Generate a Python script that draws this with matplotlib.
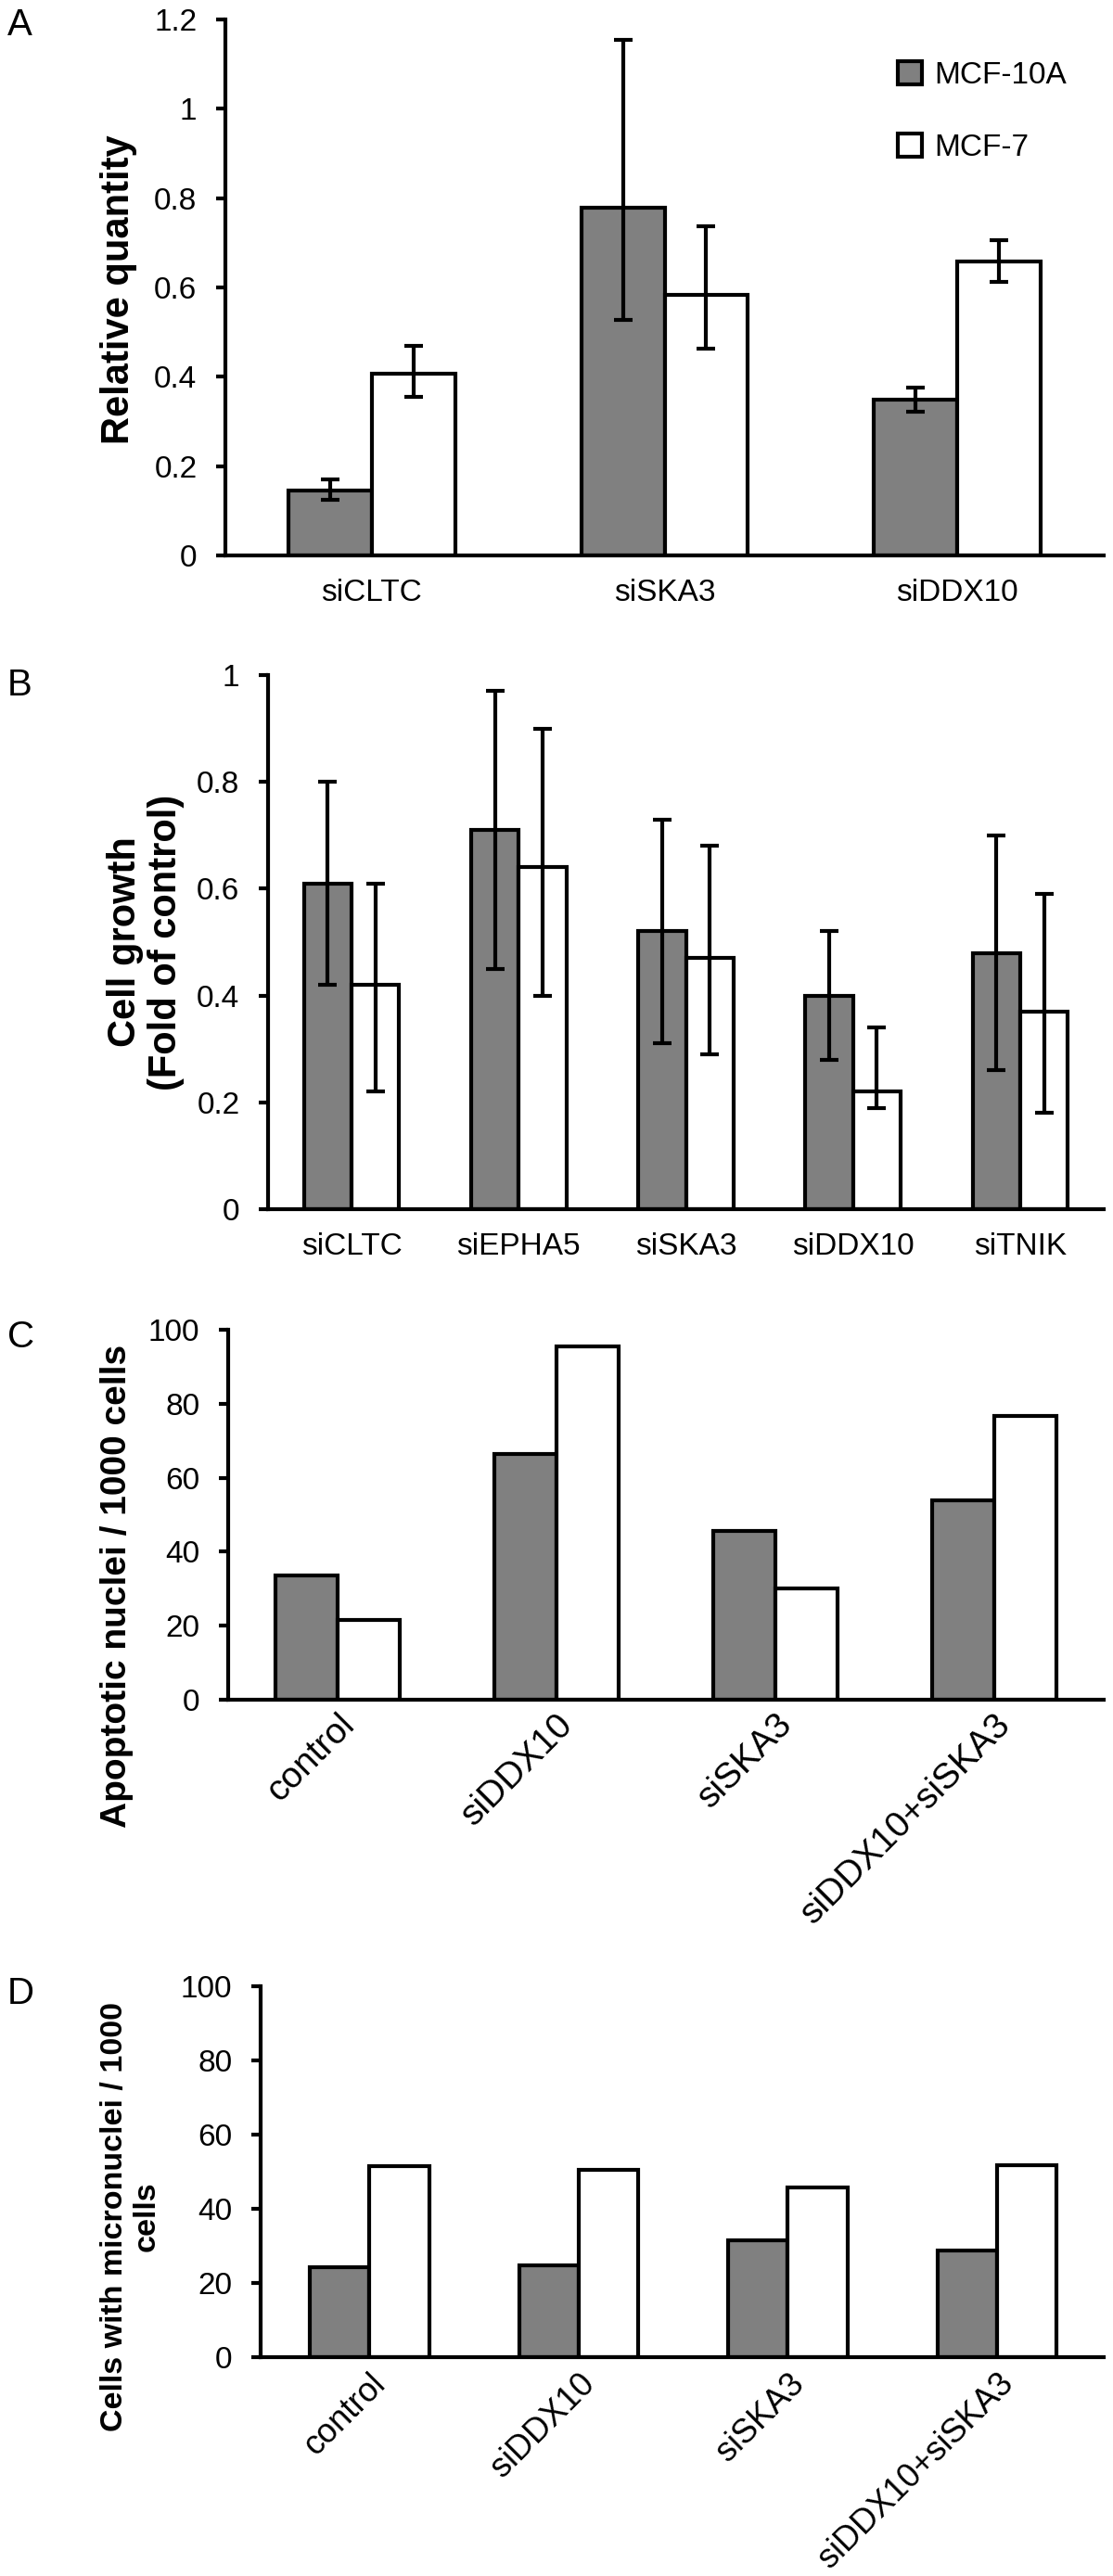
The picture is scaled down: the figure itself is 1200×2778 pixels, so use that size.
import matplotlib
matplotlib.use("Agg")
import matplotlib.pyplot as plt
import numpy as np
from matplotlib.patches import Patch

plt.rcParams['font.family'] = ['Liberation Sans', 'DejaVu Sans']

# ---------------- data ----------------
series_names = ["MCF-10A", "MCF-7"]

a_cats = ["siCLTC", "siSKA3", "siDDX10"]
a_10a = [0.145, 0.778, 0.348]
a_10a_lo = [0.125, 0.527, 0.322]
a_10a_hi = [0.170, 1.154, 0.375]
a_7 = [0.407, 0.584, 0.658]
a_7_lo = [0.354, 0.462, 0.612]
a_7_hi = [0.470, 0.738, 0.705]
a_ticks = [0, 0.2, 0.4, 0.6, 0.8, 1.0, 1.2]
a_ticklabels = ["0", "0.2", "0.4", "0.6", "0.8", "1", "1.2"]

b_cats = ["siCLTC", "siEPHA5", "siSKA3", "siDDX10", "siTNIK"]
b_10a = [0.61, 0.71, 0.52, 0.40, 0.48]
b_10a_lo = [0.42, 0.45, 0.31, 0.28, 0.26]
b_10a_hi = [0.80, 0.97, 0.73, 0.52, 0.70]
b_7 = [0.42, 0.64, 0.47, 0.22, 0.37]
b_7_lo = [0.22, 0.40, 0.29, 0.19, 0.18]
b_7_hi = [0.61, 0.90, 0.68, 0.34, 0.59]
b_ticks = [0, 0.2, 0.4, 0.6, 0.8, 1.0]
b_ticklabels = ["0", "0.2", "0.4", "0.6", "0.8", "1"]

c_cats = ["control", "siDDX10", "siSKA3", "siDDX10+siSKA3"]
c_10a = [33.6, 66.3, 45.5, 53.9]
c_7 = [21.6, 95.4, 30.2, 76.8]

d_cats = ["control", "siDDX10", "siSKA3", "siDDX10+siSKA3"]
d_10a = [24.2, 24.7, 31.4, 28.7]
d_7 = [51.6, 50.4, 45.8, 51.8]
cd_ticks = [0, 20, 40, 60, 80, 100]

# ---------------- style ----------------
W, H = 1200, 2778
GRAY = "#808080"
LW = 3
BW = 0.285
TICK_FS = 24

fig = plt.figure(figsize=(W / 100, H / 100), dpi=100)


def px_axes(left, right, top, bottom):
    return fig.add_axes([left / W, 1 - bottom / H, (right - left) / W, (bottom - top) / H])


def style(ax, ncat, ylim, ticks, ticklabels, cats, rotated=False, xlim=None,
          rot_fs=26, rot_pad=8):
    for s in ["top", "right"]:
        ax.spines[s].set_visible(False)
    for s in ["left", "bottom"]:
        ax.spines[s].set_linewidth(LW)
    ax.set_ylim(*ylim)
    if xlim is None:
        ax.set_xlim(-0.5, ncat - 0.5)
    else:
        ax.set_xlim(*xlim)
    ax.set_yticks(ticks)
    ax.set_yticklabels(ticklabels)
    ax.tick_params(axis="y", direction="out", length=7, width=LW, labelsize=TICK_FS, pad=15)
    ax.set_xticks(range(ncat))
    if rotated:
        ax.set_xticklabels(cats, rotation=45, ha="right", va="top",
                           rotation_mode="anchor", fontsize=rot_fs)
        ax.tick_params(axis="x", length=0, pad=rot_pad)
    else:
        ax.set_xticklabels(cats, fontsize=TICK_FS)
        ax.tick_params(axis="x", length=0, pad=18)


def bars(ax, v1, v2, lo1=None, hi1=None, lo2=None, hi2=None):
    x = np.arange(len(v1))
    ekw = dict(ecolor="black", elinewidth=LW, capsize=7, capthick=LW)
    if lo1 is not None:
        e1 = [np.array(v1) - np.array(lo1), np.array(hi1) - np.array(v1)]
        e2 = [np.array(v2) - np.array(lo2), np.array(hi2) - np.array(v2)]
    else:
        e1 = e2 = None
    ax.bar(x - BW / 2, v1, BW, color=GRAY, edgecolor="black", linewidth=LW,
           yerr=e1, error_kw=ekw, label=series_names[0], zorder=2)
    ax.bar(x + BW / 2, v2, BW, color="white", edgecolor="black", linewidth=LW,
           yerr=e2, error_kw=ekw, label=series_names[1], zorder=2)


# ---------------- panel A ----------------
axA = px_axes(243, 1190, 21, 599)
bars(axA, a_10a, a_7, a_10a_lo, a_10a_hi, a_7_lo, a_7_hi)
style(axA, 3, (0, 1.2), a_ticks, a_ticklabels, a_cats)
handles = [Patch(facecolor=GRAY, edgecolor="black", linewidth=LW),
           Patch(facecolor="white", edgecolor="black", linewidth=LW)]
axA.legend(handles, series_names, loc="upper left", bbox_to_anchor=(968 / W, 1 - 66 / H),
           bbox_transform=fig.transFigure, frameon=False, fontsize=24,
           handlelength=0.78, handleheight=0.78, handletextpad=0.4, labelspacing=1.4,
           borderpad=0, borderaxespad=0)
fig.text(128 / W, 1 - 312 / H, "Relative quantity", rotation=90, ha="center", va="center",
         fontsize=30, fontweight="bold")

# ---------------- panel B ----------------
axB = px_axes(289, 1190, 728, 1304)
bars(axB, b_10a, b_7, b_10a_lo, b_10a_hi, b_7_lo, b_7_hi)
style(axB, 5, (0, 1.0), b_ticks, b_ticklabels, b_cats)
fig.text(157 / W, 1 - 1016 / H, "Cell growth\n(Fold of control)", rotation=90, ha="center",
         va="center", fontsize=30, fontweight="bold", linespacing=1.1, multialignment="center")

# ---------------- panel C ----------------
axC = px_axes(246, 1190, 1434, 1833)
bars(axC, c_10a, c_7)
style(axC, 4, (0, 100), cd_ticks, [str(t) for t in cd_ticks], c_cats, rotated=True,
      rot_fs=28, rot_pad=6)
fig.text(126 / W, 1 - 1710 / H, "Apoptotic nuclei / 1000 cells", rotation=90, ha="center",
         va="center", fontsize=28, fontweight="bold")

# ---------------- panel D ----------------
axD = px_axes(281, 1190, 2142, 2542)
bars(axD, d_10a, d_7)
style(axD, 4, (0, 100), cd_ticks, [str(t) for t in cd_ticks], d_cats, rotated=True,
      xlim=(-0.52, 3.51), rot_fs=26, rot_pad=8)
fig.text(141 / W, 1 - 2390 / H, "Cells with micronuclei / 1000\ncells", rotation=90,
         ha="center", va="center", fontsize=24.5, fontweight="bold", linespacing=1.15,
         multialignment="center")

# ---------------- panel letters ----------------
for letter, top in zip(["A", "B", "C", "D"], [8, 720, 1423, 2131]):
    fig.text(8 / W, 1 - top / H, letter, ha="left", va="top", fontsize=29)

fig.savefig("out.png", dpi=100)
